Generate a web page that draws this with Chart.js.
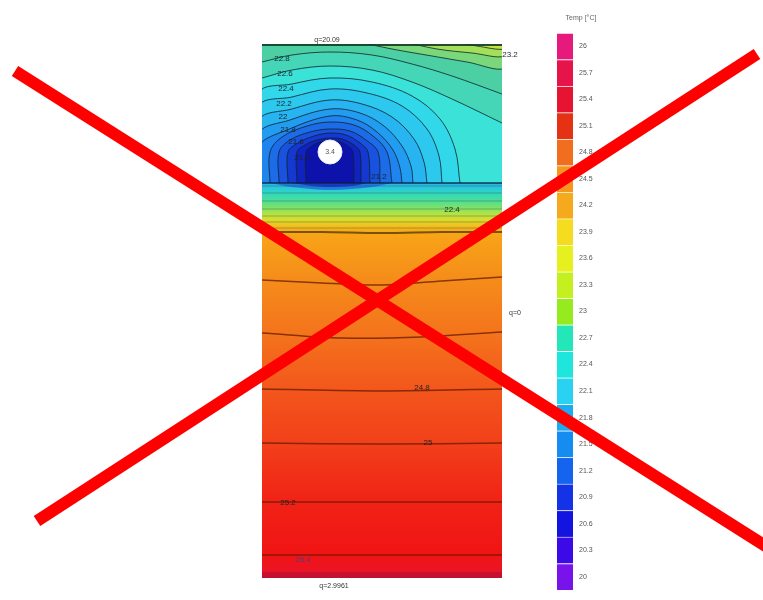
<!DOCTYPE html>
<html>
<head>
<meta charset="utf-8">
<script src="https://cdn.jsdelivr.net/npm/chart.js@4.4.1/dist/chart.umd.min.js"></script>
<style>
    html, body { margin: 0; padding: 0; background: #fff; }
    #wrap { position: relative; width: 763px; height: 600px; }
    #wrap canvas { position: absolute; left: 0; top: 0; }
</style>
</head>
<body>
<div id="wrap">
    <canvas id="scale" width="763" height="600"></canvas>
    <canvas id="field" width="763" height="600"></canvas>
    <canvas id="cross" width="763" height="600"></canvas>
</div>
<script>
// Colour scale (bottom -> top)
const colorbarTicks = ['20','20.3','20.6','20.9','21.2','21.5','21.8','22.1','22.4','22.7','23','23.3','23.6','23.9','24.2','24.5','24.8','25.1','25.4','25.7','26'];
const colorbarColors = ['#7814eb','#3c0ae6','#1414e1','#1432e6','#1464f0','#148cf0','#1eaaf0','#28d2f0','#1ee6dc','#23e6b9','#96eb1e','#c3f01e','#e6f01e','#f5dc1e','#f5aa1e','#f5961e','#f06e1e','#e63214','#e61432','#e6144b','#e6197d'];

// Section grid: x 0..240 (width), y 0..534 (depth, downwards). Pipe and isotherms.
const pipeCentre = [68, 108];
const pipeLabel = '3.4';
const interfaceDepth = 139;

// top-right warm corner isotherms 23.0 / 23.2 / 23.4
const corner230 = [[92,-3],[130,5],[170,12],[205,18],[243,24],[243,-3]];
const corner232 = [[138,-3],[175,5],[210,9],[243,12],[243,-3]];
const corner234 = [[188,-3],[215,2],[243,5],[243,-3]];
// isotherms that run from the left edge to the right edge
const line228 = [[0,18],[30,11],[68,8],[110,11],[150,20],[190,32],[240,50]];
const line226 = [[0,34],[30,26],[68,22],[110,26],[150,38],[190,55],[240,79]];
// isotherms around the pipe, closed on the layer interface
const arc224 = [[-3,139],[-3,49],[30,40],[68,34],[110,38],[150,52],[178,75],[193,105],[198,139]];
const arc222 = [[-3,139],[-3,62],[30,53],[68,45],[105,49],[140,62],[165,85],[177,112],[180,139]];
const arc220 = [[-3,139],[-3,76],[30,65],[68,56],[100,60],[130,73],[152,95],[162,118],[165,139]];
const arc218 = [[-3,139],[-3,89],[28,76],[68,65],[98,69],[122,82],[140,102],[149,122],[151,139]];
const arc216 = [[-3,139],[-3,102],[25,86],[68,72],[95,76],[115,88],[131,106],[138,124],[140,139]];
const arc214 = [[8,139],[8,108],[20,93],[45,82],[68,78],[92,81],[111,92],[125,108],[130,139]];
const arc212 = [[17,139],[17,108],[28,96],[48,88],[68,85],[88,87],[104,96],[116,108],[118,139]];
const arc210 = [[26,139],[26,108],[36,99],[52,92],[68,89],[84,91],[98,99],[106,108],[108,139]];
const arc208 = [[35,139],[35,108],[43,101],[55,96],[68,94],[80,95],[92,101],[98,108],[99,139]];
const arc206 = [[44,139],[44,108],[50,102],[58,98],[68,97],[78,98],[86,102],[91,108],[92,139]];
// cold patch just under the pipe
const underPipeOuter = [[8,139],[30,143],[68,146],[110,143],[130,139]];
const underPipeInner = [[30,139],[50,142],[68,143],[90,142],[105,139]];
// thin isotherms in the transition layer, and the lower isotherms
const transitionDepths = [142, 149, 157, 165, 172, 178, 184];
const lower188 = [[0,188],[60,188],[120,189],[180,188],[240,188]];
const lower236 = [[0,236],[60,239],[120,241],[180,237],[240,233]];
const lower289 = [[0,289],[80,294],[160,293],[240,288]];
const lower346 = [[0,345],[120,347],[240,345]];
const lower399 = [[0,399],[120,400],[240,399]];
const lower458 = [[0,458],[240,458]];
const lower511 = [[0,511],[240,511]];
// colour of the lower part by depth
const shadeDepths = [139, 141, 146, 151, 156, 161, 166, 171, 176, 181, 186, 190, 236, 289, 346, 399, 458, 511, 527, 529, 534];
const shadeColors = ['#2aa8e6','#28bce4','#2ccfd0','#36d9b6','#4ade9a','#6ae07a','#92e35a','#bce240','#dcda2c','#f0c420','#f6ae1a','#f8a418','#f58c1a','#f4741c','#f3561c','#f2401a','#f12216','#f01414','#ec1426','#c8102e','#c01030'];

const contourLabels = [
    ['22.8', 20, 15], ['22.6', 23, 30], ['22.4', 24, 45], ['22.2', 22, 60], ['22', 21, 73],
    ['21.8', 26, 86], ['21.6', 34, 98], ['21.4', 40, 114], ['21.2', 117, 133],
    ['23.2', 248, 11], ['22.4', 190, 166], ['24.8', 160, 344], ['25', 166, 399],
    ['25.2', 26, 459], ['25.4', 41, 516]
];
const boundaryLabels = [['q=20.09', 65, -4], ['q=0', 253, 269], ['q=2.9961', 72, 542]];

// big red cross over the whole picture (page pixels)
const crossA = [[15,71],[775,552]];
const crossB = [[37,521],[757,54]];

const pts = arr => arr.map(([x, y]) => ({x, y}));
const ISO = 'rgba(15,35,45,0.8)';

// ---------- colour bar ----------
const colorbarText = {
    id: 'colorbarText',
    afterDraw(chart){
        const {ctx, chartArea, scales: {y}} = chart;
        ctx.save();
        ctx.font = '7px "Liberation Sans", Arial, sans-serif';
        ctx.fillStyle = '#555';
        ctx.textBaseline = 'middle';
        ctx.textAlign = 'left';
        colorbarTicks.forEach((t, i) => ctx.fillText(t, chartArea.right + 6, y.getPixelForValue(i + 0.5)));
        ctx.textAlign = 'center';
        ctx.fillStyle = '#666';
        ctx.fillText('Temp [°C]', chartArea.left + 24, chartArea.top - 15);
        ctx.restore();
    }
};
new Chart(document.getElementById('scale'), {
    type: 'bar',
    data: {
        labels: [''],
        datasets: colorbarColors.map(c => ({ data: [1], backgroundColor: c, borderColor: 'rgba(255,255,255,0.35)', borderWidth: {top: 1} }))
    },
    options: {
        responsive: false, animation: false, devicePixelRatio: 1,
        layout: { padding: { left: 557, right: 190, top: 33, bottom: 10 } },
        datasets: { bar: { barPercentage: 1, categoryPercentage: 1 } },
        plugins: { legend: { display: false }, tooltip: { enabled: false } },
        scales: { x: { stacked: true, display: false }, y: { stacked: true, display: false, min: 0, max: colorbarTicks.length } }
    },
    plugins: [colorbarText]
});

// ---------- temperature field ----------
const datasets = [];
function add(ds){
    const base = { pointRadius: 0, tension: 0.35, borderWidth: 1, borderColor: ISO, fill: false };
    datasets.push(Object.assign(base, ds, { order: -datasets.length }));
}
function lowerGradient(context){
    const chart = context.chart;
    const y = chart.scales.y;
    if (!chart.chartArea || !y) return shadeColors[0];
    const top = y.getPixelForValue(shadeDepths[0]);
    const bottom = y.getPixelForValue(shadeDepths[shadeDepths.length - 1]);
    const g = chart.ctx.createLinearGradient(0, top, 0, bottom);
    shadeDepths.forEach((d, i) => g.addColorStop((d - shadeDepths[0]) / (shadeDepths[shadeDepths.length - 1] - shadeDepths[0]), shadeColors[i]));
    return g;
}

add({ data: pts([[0,0],[240,0]]), fill: 'start', backgroundColor: '#4ccfa2', borderWidth: 0 });
[[corner230,'#7ad87a'],[corner232,'#a2e05a'],[corner234,'#c4e23e']].forEach(([d,c]) => add({ data: pts(d), fill: 'shape', backgroundColor: c }));
add({ data: pts(line228), fill: 'start', backgroundColor: '#44d6b6' });
add({ data: pts(line226), fill: 'start', backgroundColor: '#3ae2d8' });
[[arc224,'#30d8ea'],[arc222,'#2cc8ee'],[arc220,'#27b4f0'],[arc218,'#229cf0'],[arc216,'#1f84ee'],
 [arc214,'#1c6ce8'],[arc212,'#1852de'],[arc210,'#1438d0'],[arc208,'#1022c0'],[arc206,'#0c12aa']]
    .forEach(([d,c]) => add({ data: pts(d), fill: 'shape', backgroundColor: c }));
add({ data: pts([[0,interfaceDepth],[240,interfaceDepth]]), fill: 'start', backgroundColor: lowerGradient, borderWidth: 0 });
add({ data: pts(underPipeOuter), fill: 'shape', backgroundColor: 'rgba(30,110,220,0.85)', borderWidth: 0 });
add({ data: pts(underPipeInner), fill: 'shape', backgroundColor: 'rgba(22,50,196,0.9)', borderWidth: 0 });
transitionDepths.forEach(d => add({ data: pts([[0,d],[240,d]]), borderColor: 'rgba(30,70,70,0.35)' }));
add({ data: pts([[0,interfaceDepth],[240,interfaceDepth]]), borderColor: 'rgba(10,30,60,0.85)', borderWidth: 1.5 });
add({ data: pts(lower188), borderColor: 'rgba(90,60,0,0.8)', borderWidth: 2 });
[lower236, lower289, lower346, lower399, lower458, lower511]
    .forEach(d => add({ data: pts(d), borderColor: 'rgba(100,25,0,0.75)', borderWidth: 1.5 }));
add({ data: pts([[0,1],[240,1]]), borderColor: 'rgba(20,60,40,0.9)', borderWidth: 2, tension: 0 });
add({ data: pts([pipeCentre]), showLine: false, pointRadius: 12, pointBackgroundColor: '#ffffff', pointBorderColor: '#e6ecf6', pointBorderWidth: 1 });

const fieldText = {
    id: 'fieldText',
    afterDatasetsDraw(chart){
        const {ctx, scales: {x, y}} = chart;
        ctx.save();
        ctx.textAlign = 'center';
        ctx.textBaseline = 'middle';
        ctx.font = '8px "Liberation Sans", Arial, sans-serif';
        contourLabels.forEach(([t, gx, gy]) => {
            ctx.fillStyle = gy > 500 ? '#4b3c8c' : '#1e2428';
            ctx.fillText(t, x.getPixelForValue(gx), y.getPixelForValue(gy));
        });
        ctx.font = '7px "Liberation Sans", Arial, sans-serif';
        ctx.fillStyle = '#333';
        boundaryLabels.forEach(([t, gx, gy]) => ctx.fillText(t, x.getPixelForValue(gx), y.getPixelForValue(gy)));
        ctx.fillStyle = '#555';
        ctx.fillText(pipeLabel, x.getPixelForValue(pipeCentre[0]), y.getPixelForValue(pipeCentre[1]));
        ctx.restore();
    }
};

new Chart(document.getElementById('field'), {
    type: 'line',
    data: { datasets },
    options: {
        responsive: false, animation: false, devicePixelRatio: 1,
        layout: { padding: { left: 262, right: 261, top: 44, bottom: 22 } },
        plugins: { legend: { display: false }, tooltip: { enabled: false } },
        scales: {
            x: { type: 'linear', min: 0, max: 240, display: false },
            y: { type: 'linear', min: 0, max: 534, reverse: true, display: false }
        }
    },
    plugins: [fieldText]
});

// ---------- red cross ----------
new Chart(document.getElementById('cross'), {
    type: 'line',
    data: {
        datasets: [crossA, crossB].map(d => ({
            data: pts(d), borderColor: '#ff0000', borderWidth: 12, borderCapStyle: 'butt',
            pointRadius: 0, fill: false, clip: false
        }))
    },
    options: {
        responsive: false, animation: false, devicePixelRatio: 1,
        layout: { padding: 0 },
        plugins: { legend: { display: false }, tooltip: { enabled: false } },
        scales: {
            x: { type: 'linear', min: 0, max: 763, display: false },
            y: { type: 'linear', min: 0, max: 600, reverse: true, display: false }
        }
    }
});
</script>
</body>
</html>
